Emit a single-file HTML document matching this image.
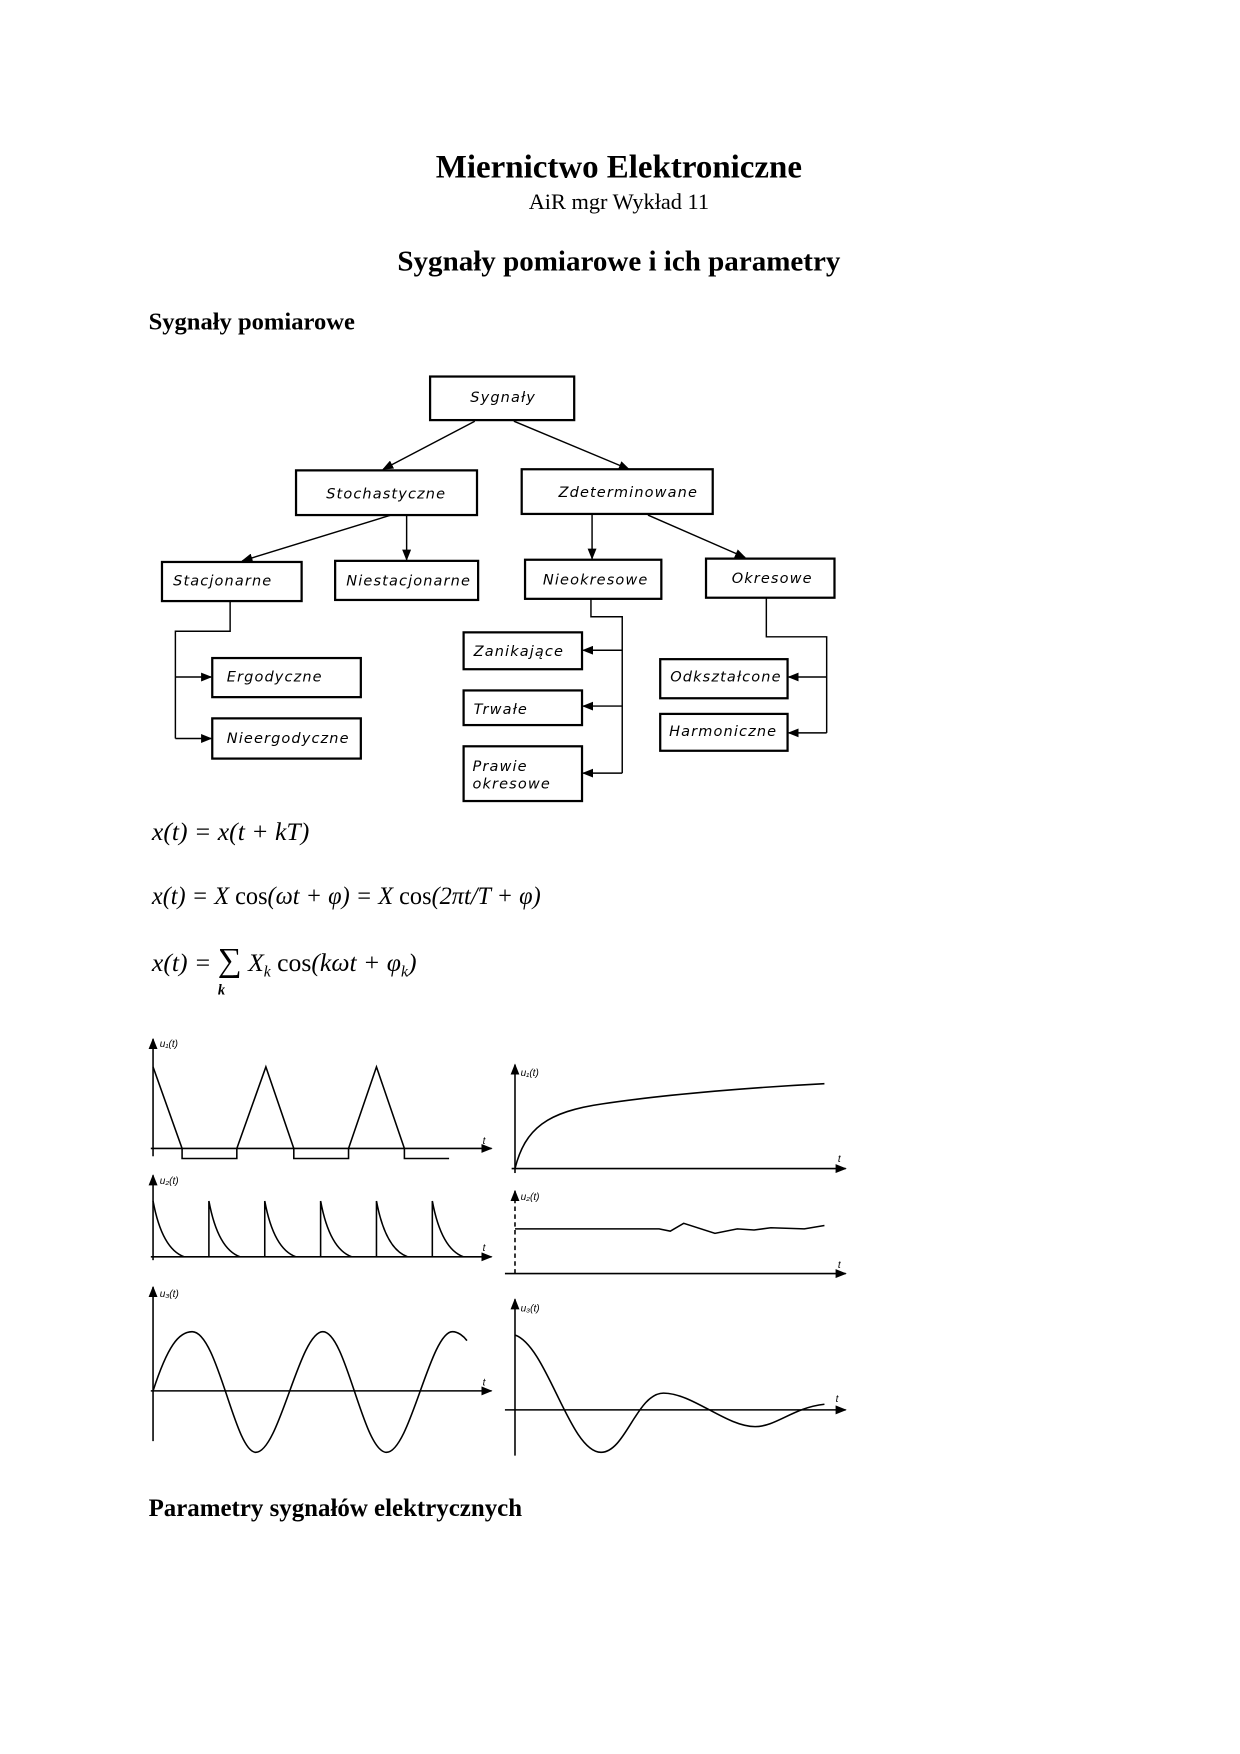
<!DOCTYPE html>
<html><head><meta charset="utf-8"><style>
html,body{margin:0;padding:0;background:#fff}
svg{display:block}
.s{font-family:"Liberation Serif",serif}
.b{font-family:"DejaVu Sans","Liberation Sans",sans-serif;font-style:italic;font-size:13px;letter-spacing:1px}
.m{font-family:"Liberation Serif",serif;font-style:italic;font-size:23px}
.l{font-family:"Liberation Sans",sans-serif;font-style:italic;font-size:9px}
</style></head><body>
<svg width="1240" height="1754" viewBox="0 0 1110 1570" xmlns="http://www.w3.org/2000/svg">
<defs><marker id="a" markerWidth="10" markerHeight="8" refX="9" refY="4" orient="auto" markerUnits="userSpaceOnUse"><path d="M0,0L10,4L0,8z" fill="#000"/></marker></defs>
<g class="s" text-anchor="middle">
<text x="554" y="159" font-size="29.5" font-weight="bold">Miernictwo Elektroniczne</text>
<text x="554" y="187" font-size="20">AiR mgr Wykład 11</text>
<text x="554" y="242" font-size="26" font-weight="bold">Sygnały pomiarowe i ich parametry</text>
</g>
<text class="s" x="133" y="295" font-size="22" font-weight="bold">Sygnały pomiarowe</text>
<text class="s" x="133" y="1357" font-size="22.3" font-weight="bold">Parametry sygnałów elektrycznych</text>

<g fill="none" stroke="#000" stroke-width="2">
<rect x="385" y="337" width="129" height="39"/>
<rect x="265" y="421" width="162" height="40"/>
<rect x="467" y="420" width="171" height="40"/>
<rect x="145" y="503" width="125" height="35"/>
<rect x="300" y="502" width="128" height="35"/>
<rect x="470" y="501" width="122" height="35"/>
<rect x="632" y="500" width="115" height="35"/>
<rect x="190" y="589" width="133" height="35"/>
<rect x="190" y="643" width="133" height="36"/>
<rect x="415" y="566" width="106" height="33"/>
<rect x="415" y="618" width="106" height="31"/>
<rect x="415" y="668" width="106" height="49"/>
<rect x="591" y="590" width="114" height="35"/>
<rect x="591" y="639" width="114" height="33"/>
</g>
<g fill="none" stroke="#000" stroke-width="1.3">
<path d="M425,377L343,420" marker-end="url(#a)"/>
<path d="M460,377L563,420" marker-end="url(#a)"/>
<path d="M350,461L217,502" marker-end="url(#a)"/>
<path d="M364,461V501" marker-end="url(#a)"/>
<path d="M530,460V500" marker-end="url(#a)"/>
<path d="M580,461L667,499" marker-end="url(#a)"/>
<path d="M206,538V565H157V661"/>
<path d="M157,606H189" marker-end="url(#a)"/>
<path d="M157,661H189" marker-end="url(#a)"/>
<path d="M529,536V552H557V692"/>
<path d="M557,582H522" marker-end="url(#a)"/>
<path d="M557,632H522" marker-end="url(#a)"/>
<path d="M557,692H522" marker-end="url(#a)"/>
<path d="M686,535V570H740V656"/>
<path d="M740,606H706" marker-end="url(#a)"/>
<path d="M740,656H706" marker-end="url(#a)"/>
</g>
<g class="b">
<text x="421" y="360">Sygnały</text>
<text x="292" y="446">Stochastyczne</text>
<text x="500" y="445">Zdeterminowane</text>
<text x="155" y="524">Stacjonarne</text>
<text x="310" y="524">Niestacjonarne</text>
<text x="486" y="523">Nieokresowe</text>
<text x="655" y="522">Okresowe</text>
<text x="203" y="610">Ergodyczne</text>
<text x="203" y="665">Nieergodyczne</text>
<text x="424" y="587">Zanikające</text>
<text x="424" y="639">Trwałe</text>
<text x="423" y="690">Prawie</text>
<text x="423" y="706">okresowe</text>
<text x="600" y="610">Odkształcone</text>
<text x="599" y="659">Harmoniczne</text>
</g>
<g class="m">
<text x="136" y="752">x(t) = x(t + kT)</text>
<text x="136" y="809" textLength="348" lengthAdjust="spacingAndGlyphs">x(t) = X <tspan font-style="normal">cos</tspan>(ωt + φ) = X <tspan font-style="normal">cos</tspan>(2πt/T + φ)</text>
<text x="136" y="869">x(t) = <tspan font-style="normal" font-size="30">∑</tspan> X<tspan font-size="14" dy="5">k</tspan><tspan dy="-5" font-style="normal"> cos</tspan>(kωt + φ<tspan font-size="14" dy="5">k</tspan><tspan dy="-5">)</tspan></text>
<text x="195" y="890" font-size="13" font-weight="bold">k</text>
</g>
<g fill="none" stroke="#000" stroke-width="1.4">
<path d="M137,1035V930" marker-end="url(#a)"/>
<path d="M135,1028H440" marker-end="url(#a)"/>
<path d="M137,955L163,1028V1037H212V1028L238,955L263,1028V1037H312V1028L337,955L362,1028V1037H402"/>
<path d="M137,1128V1052" marker-end="url(#a)"/>
<path d="M135,1125H440" marker-end="url(#a)"/>
<path d="M137,1075Q145,1118 165,1125M187,1125V1075Q195,1118 215,1125M237,1125V1075Q245,1118 265,1125M287,1125V1075Q295,1118 315,1125M337,1125V1075Q345,1118 365,1125M387,1125V1075Q395,1118 415,1125"/>
<path d="M137,1290V1152" marker-end="url(#a)"/>
<path d="M135,1245H440" marker-end="url(#a)"/>
<path d="M137,1245C150,1205 160,1192 172,1192C195,1192 210,1300 229,1300C250,1300 268,1192 289,1192C310,1192 325,1300 346,1300C367,1300 385,1192 405,1192C410,1192 415,1196 418,1200"/>
<path d="M461,1050V953" marker-end="url(#a)"/>
<path d="M458,1046H757" marker-end="url(#a)"/>
<path d="M461,1046C470,1010 490,995 540,988C600,979 680,973 738,970"/>
<path d="M461,1140V1066" stroke-dasharray="4,3" marker-end="url(#a)"/>
<path d="M452,1140H757" marker-end="url(#a)"/>
<path d="M461,1100H590L600,1102L612,1095L640,1104L660,1100L675,1101L690,1099L720,1100L738,1097"/>
<path d="M461,1303V1163" marker-end="url(#a)"/>
<path d="M452,1262H757" marker-end="url(#a)"/>
<path d="M461,1195C490,1205 510,1300 538,1300C560,1300 570,1247 594,1247C620,1247 650,1277 676,1277C695,1277 710,1260 738,1257"/>
</g>
<g class="l">
<text x="143" y="937">u₁(t)</text><text x="466" y="963">u₁(t)</text>
<text x="143" y="1060">u₂(t)</text><text x="466" y="1074">u₂(t)</text>
<text x="143" y="1161">u₃(t)</text><text x="466" y="1174">u₃(t)</text>
<text x="432" y="1024">t</text><text x="750" y="1040">t</text>
<text x="432" y="1120">t</text><text x="750" y="1135">t</text>
<text x="432" y="1240">t</text><text x="748" y="1255">t</text>
</g>
</svg>
</body></html>
